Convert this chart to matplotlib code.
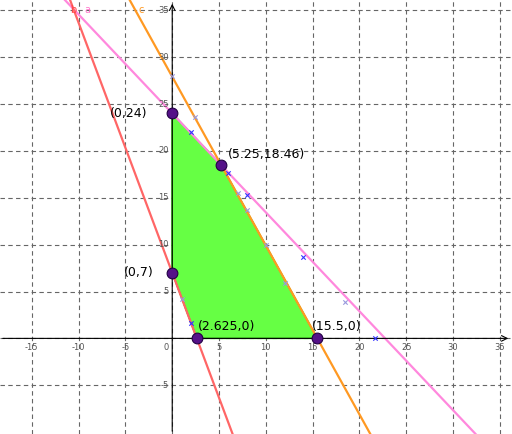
import numpy as np
import matplotlib.pyplot as plt

# lines as (point1, point2)
line_a = [(0, 24), (5.25, 18.46)]     # pink
line_b = [(0, 7), (2.625, 0)]         # red
line_c = [(5.25, 18.46), (15.5, 0)]   # orange

region_x = [0, 0, 5.25, 15.5, 2.625]
region_y = [7, 24, 18.46, 0, 0]

pts_x = [0, 5.25, 0, 2.625, 15.5]
pts_y = [24, 18.46, 7, 0, 0]
pts_lbl = ['(0,24)', '(5.25,18.46)', '(0,7)', '(2.625,0)', '(15.5,0)']
lbl_off = [(-45, 0), (5, 3), (-35, 0), (1, 4), (-4, 4)]

blue_x = [2, 6, 8, 14, 21.7, 2]
blue_y = [22, 17.6, 15.3, 8.7, 0, 1.6]
lilac_x = [0, 2.4, 7, 8, 10, 12, 18.5, 1]
lilac_y = [28, 23.6, 15.5, 13.7, 10, 5.9, 3.9, 4.2]

xmin, xmax, ymin, ymax = -18.4, 36.3, -10.2, 36.1

fig = plt.figure(figsize=(5.12, 4.34), dpi=100)
ax = fig.add_axes([0, 0, 1, 1])
ax.set_xlim(xmin, xmax)
ax.set_ylim(ymin, ymax)
ax.axis('off')

for g in range(-15, 40, 5):
    ax.axvline(g, color='#666666', ls=(0, (4, 3)), lw=0.8, zorder=0)
for g in range(-5, 40, 5):
    ax.axhline(g, color='#666666', ls=(0, (4, 3)), lw=0.8, zorder=0)

ax.annotate('', xy=(xmax - 0.1, 0), xytext=(xmin, 0),
            arrowprops=dict(arrowstyle='->', lw=0.8, color='black'))
ax.annotate('', xy=(0, ymax - 0.1), xytext=(0, ymin),
            arrowprops=dict(arrowstyle='->', lw=0.8, color='black'))
for t in range(-15, 40, 5):
    if t != 0:
        ax.text(t, -0.5, str(t), fontsize=6, color='#555555', ha='center', va='top')
for t in range(-5, 40, 5):
    if t != 0:
        ax.text(-0.4, t, str(t), fontsize=6, color='#555555', ha='right', va='center')
ax.text(-0.4, -0.5, '0', fontsize=6, color='#555555', ha='right', va='top')

ax.fill(region_x, region_y, color='#66ff44', zorder=1)
ax.plot(region_x + [region_x[0]], region_y + [region_y[0]], color='#22aa00', lw=1, zorder=1)

xs = np.array([xmin, xmax])
for (p1, p2), col in [(line_a, '#ff88dd'), (line_b, '#ff6666'), (line_c, '#ff9922')]:
    m = (p2[1] - p1[1]) / (p2[0] - p1[0])
    ax.plot(xs, p1[1] + m * (xs - p1[0]), color=col, lw=1.6, zorder=2)

ax.text(-10.6, 35, 'b', color='#ff4444', fontsize=7, ha='center', va='center')
ax.text(-9.1, 35, 'a', color='#ff77cc', fontsize=7, ha='center', va='center')
ax.text(-3.3, 35, 'c', color='#ff9922', fontsize=7, ha='center', va='center')

ax.scatter(blue_x, blue_y, marker='x', s=10, color='#3333ff', lw=0.8, zorder=3)
ax.scatter(lilac_x, lilac_y, marker='x', s=10, color='#9999dd', lw=0.8, zorder=3)

ax.scatter(pts_x, pts_y, s=60, color='#551188', edgecolor='#220044', lw=0.8, zorder=4)
for x, y, s, off in zip(pts_x, pts_y, pts_lbl, lbl_off):
    ax.annotate(s, (x, y), xytext=off, textcoords='offset points', fontsize=9,
                va='center' if off[1] == 0 else 'bottom', zorder=5)

fig.savefig('out.png')
